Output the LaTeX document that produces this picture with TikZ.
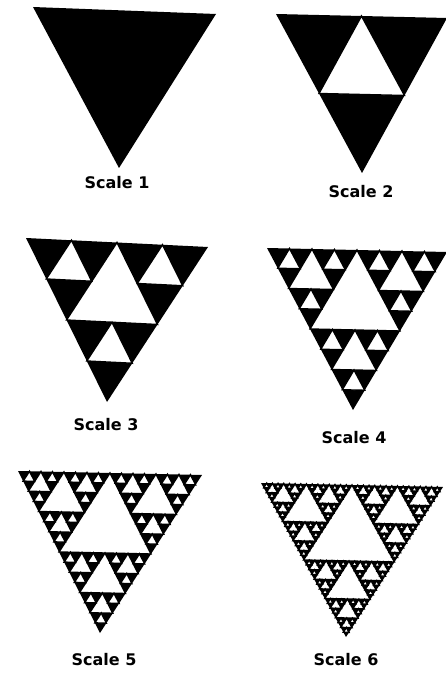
\documentclass[tikz,border=0pt]{standalone}
\usepackage{fontspec}
\setsansfont{DejaVu Sans}
\usetikzlibrary{positioning}

\tikzset{
  gasket/.style={fill=black},
  hole/.style={fill=white, draw=black, line width=1.4pt, line join=miter},
  scalelabel/.style={font=\sffamily\bfseries\fontsize{16}{18}\selectfont, inner sep=0pt}
}

\newcommand\sierpholes[7]{%
  \ifnum#1>0
  \begingroup
    \pgfmathsetmacro\sabx{(#2+#4)/2}%
    \pgfmathsetmacro\saby{(#3+#5)/2}%
    \pgfmathsetmacro\sbcx{(#4+#6)/2}%
    \pgfmathsetmacro\sbcy{(#5+#7)/2}%
    \pgfmathsetmacro\sacx{(#2+#6)/2}%
    \pgfmathsetmacro\sacy{(#3+#7)/2}%
    \filldraw[hole] (\sabx,\saby) -- (\sbcx,\sbcy) -- (\sacx,\sacy) -- cycle;
    \pgfmathtruncatemacro\sdepth{#1-1}%
    \edef\sierpnext{%
      \noexpand\sierpholes{\sdepth}{#2}{#3}{\sabx}{\saby}{\sacx}{\sacy}%
      \noexpand\sierpholes{\sdepth}{\sabx}{\saby}{#4}{#5}{\sbcx}{\sbcy}%
      \noexpand\sierpholes{\sdepth}{\sacx}{\sacy}{\sbcx}{\sbcy}{#6}{#7}}%
    \sierpnext
  \endgroup
  \fi}

\newcommand\sierp[7]{%
  \fill[gasket] (#2,#3) -- (#4,#5) -- (#6,#7) -- cycle;
  \sierpholes{#1}{#2}{#3}{#4}{#5}{#6}{#7}}

\begin{document}
\begin{tikzpicture}[x=1pt, y=-1pt]
\useasboundingbox[fill=white] (0,0) rectangle (446,676);

\sierp{0}{33}{7}{216}{14}{119}{168}
\sierp{1}{276}{14}{447}{18}{362}{173}
\sierp{2}{26}{238}{208}{247}{107}{402}
\sierp{3}{267}{248}{447}{252}{353}{410}
\sierp{4}{18}{471}{202}{475}{100}{633}
\sierp{5}{261}{483}{443}{487}{346}{637}

\foreach \n/\x/\y in {1/117/183, 2/361/192, 3/106/425, 4/354/438, 5/104/660, 6/346/660}
  \node[scalelabel] (lab\n) at (\x,\y) {Scale \n};
\end{tikzpicture}
\end{document}
